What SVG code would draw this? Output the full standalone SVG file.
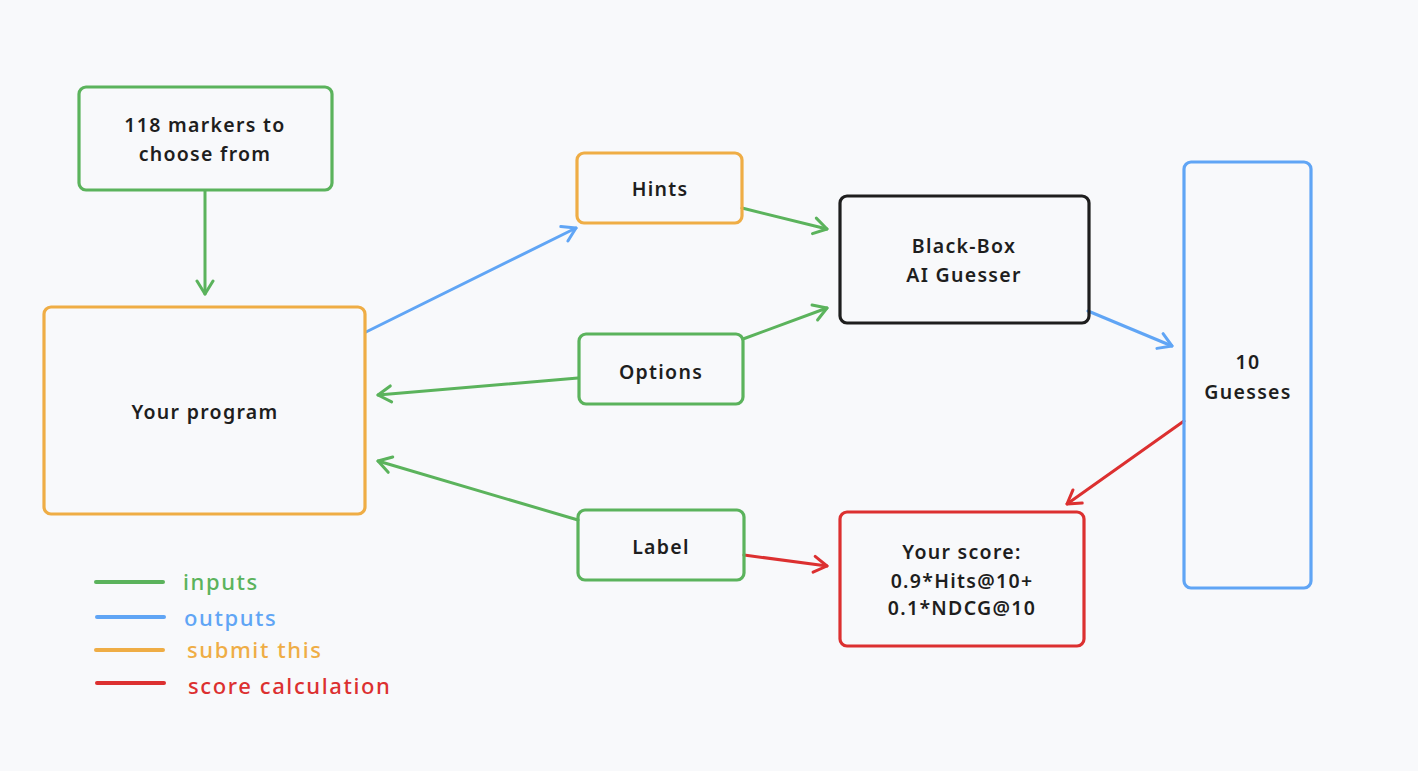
<svg xmlns="http://www.w3.org/2000/svg" width="1418" height="771" viewBox="0 0 1418 771">
<style>
.bg{fill:#f8f9fb}
.box{fill:none;stroke-width:3.2;stroke-linejoin:round}
.g{stroke:#5bb35c}.b{stroke:#60a5f5}.o{stroke:#efad45}.r{stroke:#dc3030}.k{stroke:#1e1e1e}
.t{font-family:"Noto Sans",sans-serif;font-size:19.5px;font-weight:600;fill:#1e1e1e;text-anchor:middle;dominant-baseline:central;letter-spacing:1.3px}
.lt{font-family:"Noto Sans",sans-serif;font-size:22px;font-weight:500;dominant-baseline:central;letter-spacing:1.6px}
.ln{fill:none;stroke-width:3;stroke-linecap:round}
.lg{stroke-width:4;stroke-linecap:round}
</style>
<defs>
<marker id="ag" markerUnits="userSpaceOnUse" markerWidth="30" markerHeight="30" refX="15" refY="15" orient="auto" viewBox="0 0 30 30"><path d="M2,7 L15,15 L2,23" fill="none" stroke="#5bb35c" stroke-width="3" stroke-linecap="round" stroke-linejoin="round"/></marker>
<marker id="ab" markerUnits="userSpaceOnUse" markerWidth="30" markerHeight="30" refX="15" refY="15" orient="auto" viewBox="0 0 30 30"><path d="M2,7 L15,15 L2,23" fill="none" stroke="#60a5f5" stroke-width="3" stroke-linecap="round" stroke-linejoin="round"/></marker>
<marker id="ar" markerUnits="userSpaceOnUse" markerWidth="30" markerHeight="30" refX="15" refY="15" orient="auto" viewBox="0 0 30 30"><path d="M2,7 L15,15 L2,23" fill="none" stroke="#dc3030" stroke-width="3" stroke-linecap="round" stroke-linejoin="round"/></marker>
</defs>
<rect class="bg" x="0" y="0" width="1418" height="771"/>
<g id="connectors">
<line class="ln g" x1="205" y1="191" x2="205" y2="294" marker-end="url(#ag)"/>
<line class="ln b" x1="366" y1="332" x2="576" y2="228" marker-end="url(#ab)"/>
<line class="ln g" x1="742" y1="208" x2="827" y2="229" marker-end="url(#ag)"/>
<line class="ln g" x1="743" y1="339" x2="827" y2="308" marker-end="url(#ag)"/>
<line class="ln g" x1="578" y1="378" x2="378" y2="395" marker-end="url(#ag)"/>
<line class="ln g" x1="578" y1="520" x2="378" y2="461" marker-end="url(#ag)"/>
<line class="ln b" x1="1088" y1="311" x2="1172" y2="346" marker-end="url(#ab)"/>
<line class="ln r" x1="1184" y1="421" x2="1067" y2="504" marker-end="url(#ar)"/>
<line class="ln r" x1="744" y1="555" x2="827" y2="566" marker-end="url(#ar)"/>
</g>
<g id="markers-node"><rect class="box g" x="79" y="87" width="253" height="103" rx="7"/><text class="t" x="205" y="124">118 markers to</text><text class="t" x="205" y="153">choose from</text></g>
<g id="program-node"><rect class="box o" x="44" y="307" width="321" height="207" rx="7"/><text class="t" x="205" y="411">Your program</text></g>
<g id="hints-node"><rect class="box o" x="577" y="153" width="165" height="70" rx="7"/><text class="t" x="660" y="188">Hints</text></g>
<g id="options-node"><rect class="box g" x="579" y="334" width="164" height="70" rx="7"/><text class="t" x="661" y="371">Options</text></g>
<g id="label-node"><rect class="box g" x="578" y="510" width="166" height="70" rx="7"/><text class="t" x="661" y="546">Label</text></g>
<g id="guesser-node"><rect class="box k" x="840" y="196" width="249" height="127" rx="7"/><text class="t" x="964" y="245">Black-Box</text><text class="t" x="964" y="274">AI Guesser</text></g>
<g id="guesses-node"><rect class="box b" x="1184" y="162" width="127" height="426" rx="7"/><text class="t" x="1248" y="361">10</text><text class="t" x="1248" y="391">Guesses</text></g>
<g id="score-node"><rect class="box r" x="840" y="512" width="244" height="134" rx="7"/><text class="t" x="962" y="551">Your score:</text><text class="t" x="962" y="580">0.9*Hits@10+</text><text class="t" x="962" y="607">0.1*NDCG@10</text></g>
<g id="legend">
<line class="lg g" x1="96" y1="582" x2="163" y2="582"/><text class="lt" x="183" y="581" fill="#5bb35c">inputs</text>
<line class="lg b" x1="97" y1="617" x2="164" y2="617"/><text class="lt" x="184" y="617" fill="#60a5f5">outputs</text>
<line class="lg o" x1="96" y1="650" x2="163" y2="650"/><text class="lt" x="187" y="649" fill="#efad45">submit this</text>
<line class="lg r" x1="97" y1="683" x2="164" y2="683"/><text class="lt" x="188" y="685" fill="#dc3030">score calculation</text>
</g>
</svg>
